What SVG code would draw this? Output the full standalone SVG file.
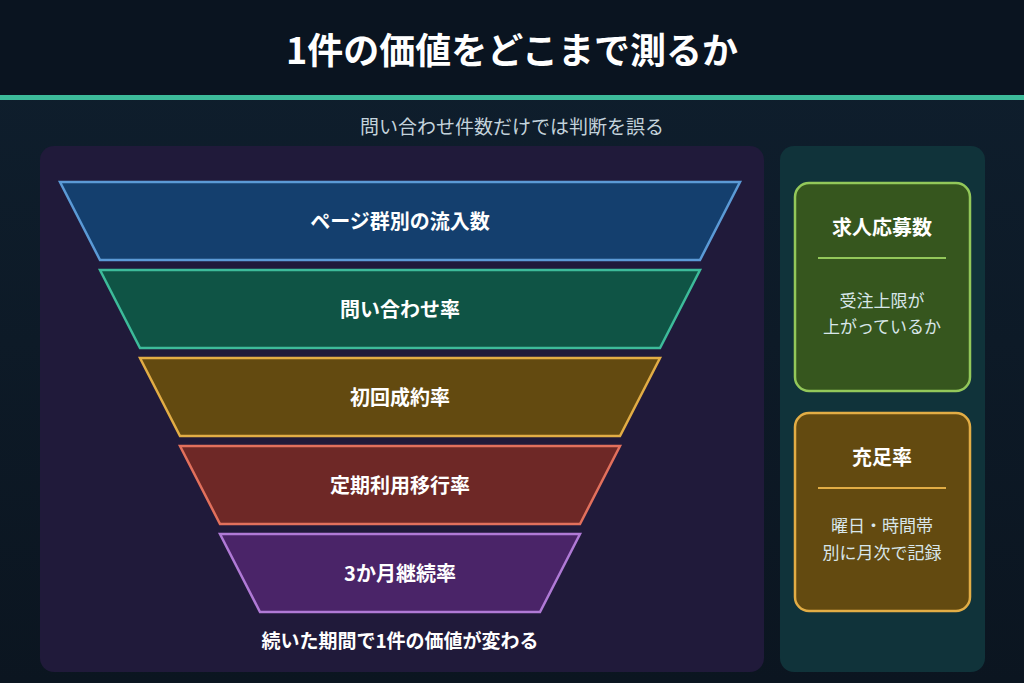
<svg xmlns="http://www.w3.org/2000/svg" width="1024" height="683" viewBox="0 0 1024 683">
<defs>
<linearGradient id="bg" x1="0" y1="0" x2="0" y2="1"><stop offset="0" stop-color="#0f1f2e"/><stop offset="1" stop-color="#0b1520"/></linearGradient>
<style>
text{font-family:"Noto Sans CJK JP","Noto Sans",sans-serif;text-anchor:middle}
.lab{fill:#fff;font-size:20px;font-weight:700}
.f{stroke-width:2.5}
.ct{fill:#fff;font-size:20px;font-weight:700}
.cb{fill:#d8e6ea;font-size:17px}
</style>
</defs>
<rect width="1024" height="683" fill="url(#bg)"/>
<rect width="1024" height="96" fill="#0a1420"/>
<rect y="95" width="1024" height="5" fill="#3dbb9a"/>
<text x="512" y="64" fill="#fff" font-size="36" font-weight="700">1件の価値をどこまで測るか</text>
<text x="512" y="134" fill="#c4d3dc" font-size="19">問い合わせ件数だけでは判断を誤る</text>
<rect x="40" y="146" width="724" height="526" rx="14" fill="#201a3a"/>
<rect x="780" y="146" width="205" height="526" rx="14" fill="#10333a"/>
<g id="n1"><polygon class="f" points="60,182 740,182 700,260 100,260" fill="#143f6e" stroke="#5b9ad6"/><text class="lab" x="400" y="229">ページ群別の流入数</text></g>
<g id="n2"><polygon class="f" points="100,270 700,270 660,348 140,348" fill="#0f5445" stroke="#3dbb9a"/><text class="lab" x="400" y="317">問い合わせ率</text></g>
<g id="n3"><polygon class="f" points="140,358 660,358 620,436 180,436" fill="#634a10" stroke="#e2ad45"/><text class="lab" x="400" y="405">初回成約率</text></g>
<g id="n4"><polygon class="f" points="180,446 620,446 580,524 220,524" fill="#6e2826" stroke="#e2705c"/><text class="lab" x="400" y="493">定期利用移行率</text></g>
<g id="n5"><polygon class="f" points="220,534 580,534 540,612 260,612" fill="#4a2468" stroke="#b07ad6"/><text class="lab" x="400" y="581">3か月継続率</text></g>
<text x="400" y="648" fill="#fff" font-size="19" font-weight="700">続いた期間で1件の価値が変わる</text>
<g id="c1"><rect x="795" y="183" width="175" height="208" rx="14" fill="#36561e" stroke="#93c85a" stroke-width="2.5"/><text class="ct" x="882" y="235">求人応募数</text><line x1="818" y1="258" x2="946" y2="258" stroke="#93c85a" stroke-width="2"/><text class="cb" x="882" y="307">受注上限が</text><text class="cb" x="882" y="333">上がっているか</text></g>
<g id="c2"><rect x="795" y="413" width="175" height="198" rx="14" fill="#634a10" stroke="#e2ad45" stroke-width="2.5"/><text class="ct" x="882" y="465">充足率</text><line x1="818" y1="488" x2="946" y2="488" stroke="#e2ad45" stroke-width="2"/><text class="cb" x="882" y="532">曜日・時間帯</text><text class="cb" x="882" y="559">別に月次で記録</text></g>
<g id="connectors"></g>
</svg>
